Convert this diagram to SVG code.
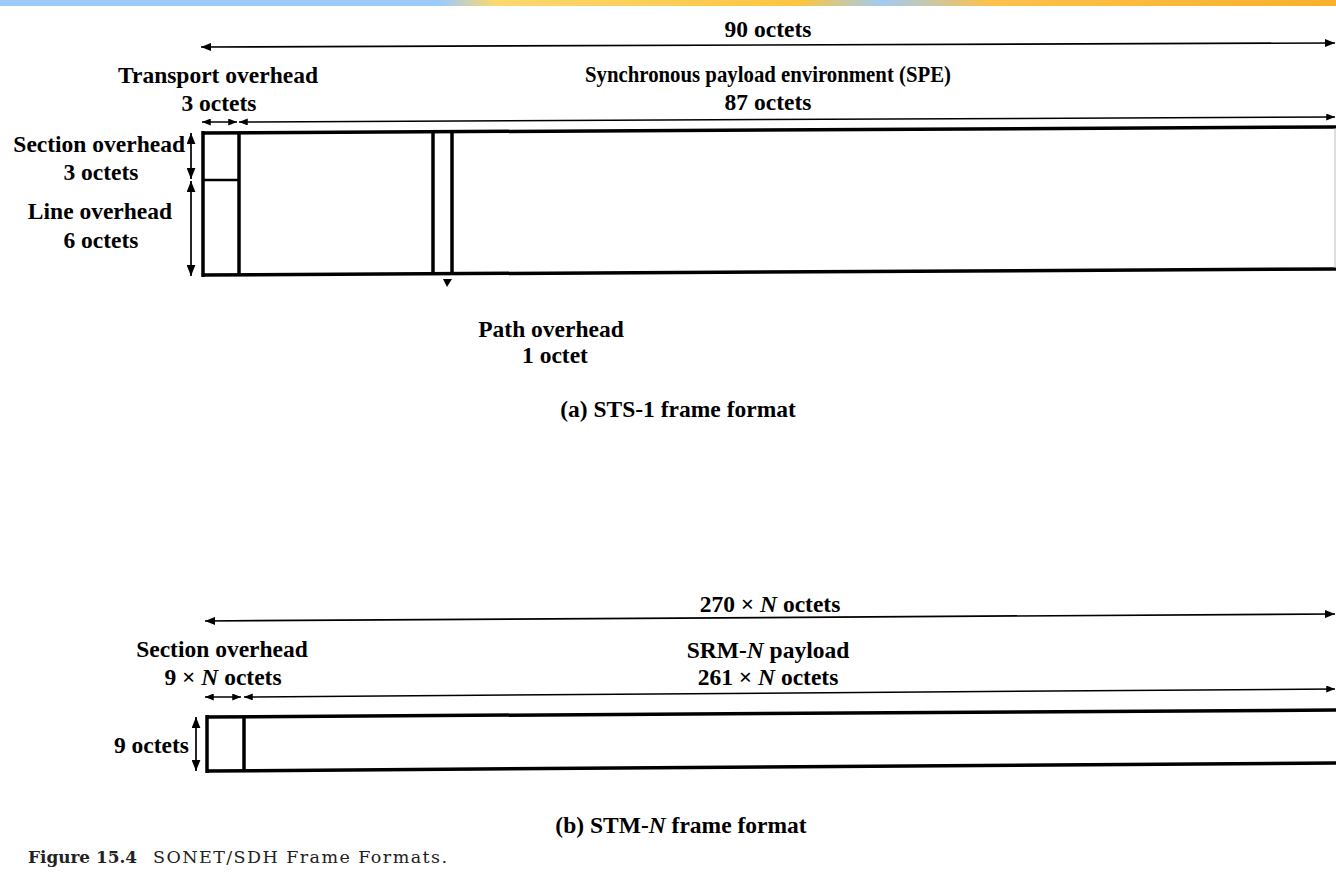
<svg xmlns="http://www.w3.org/2000/svg" width="1336" height="892" viewBox="0 0 1336 892">
<defs>
<linearGradient id="band" x1="0" y1="0" x2="1" y2="0">
<stop offset="0" stop-color="#9ccbfb"/>
<stop offset="0.33" stop-color="#9ccbfb"/>
<stop offset="0.37" stop-color="#fcd870"/>
<stop offset="0.6" stop-color="#fbc540"/>
<stop offset="0.66" stop-color="#a2cbf2"/>
<stop offset="0.74" stop-color="#fcc24c"/>
<stop offset="1" stop-color="#f9b12a"/>
</linearGradient>
<marker id="ah" viewBox="0 0 10 8" refX="10" refY="4" markerWidth="11" markerHeight="8" markerUnits="userSpaceOnUse" orient="auto-start-reverse">
<path d="M0,0 L10,4 L0,8 Z" fill="#000"/>
</marker>
<marker id="ahs" viewBox="0 0 10 8" refX="10" refY="4" markerWidth="9" markerHeight="7" markerUnits="userSpaceOnUse" orient="auto-start-reverse">
<path d="M0,0 L10,4 L0,8 Z" fill="#000"/>
</marker>
<marker id="ahv" viewBox="0 0 10 8" refX="10" refY="4" markerWidth="11" markerHeight="9" markerUnits="userSpaceOnUse" orient="auto-start-reverse">
<path d="M0,0 L10,4 L0,8 Z" fill="#000"/>
</marker>
</defs>
<style>
.t{font-family:"Liberation Serif","Times New Roman",serif;font-weight:bold;font-size:23.5px;fill:#000;text-anchor:middle}
.e{text-anchor:end}
.i{font-style:italic}
.dim{stroke:#000;stroke-width:1.7;fill:none;marker-start:url(#ah);marker-end:url(#ah)}
.dims{stroke:#000;stroke-width:1.5;fill:none;marker-start:url(#ahs);marker-end:url(#ahs)}
.dimv{stroke:#000;stroke-width:1.7;fill:none;marker-start:url(#ahv);marker-end:url(#ahv)}
.frame{stroke:#000;stroke-width:3.5;fill:none}
.thin{stroke:#000;stroke-width:2.6;fill:none}
.cap{font-family:"DejaVu Serif","Liberation Serif",serif;font-size:17.5px;fill:#222}
</style>
<rect x="0" y="0" width="1336" height="6" fill="url(#band)"/>
<rect x="0" y="6" width="1336" height="886" fill="#fff"/>

<g id="connectors">
<line class="dim" x1="201" y1="47" x2="1335" y2="43"/>
<line class="dims" x1="202" y1="122" x2="237" y2="122"/>
<line class="dims" x1="239" y1="122" x2="1335" y2="117"/>
<line class="dimv" x1="191" y1="133" x2="191" y2="179"/>
<line class="dimv" x1="191" y1="181" x2="191" y2="276"/>
<polygon points="443,279 452,279 447,287" fill="#000"/>
<line class="dim" x1="205" y1="621" x2="1335" y2="614"/>
<line class="dims" x1="205" y1="697" x2="241" y2="697"/>
<line class="dims" x1="244" y1="697" x2="1335" y2="689"/>
<line class="dimv" x1="196" y1="717" x2="196" y2="771"/>
</g>

<g id="sts1-frame">
<line class="frame" x1="202" y1="133" x2="1336" y2="127"/>
<line class="frame" x1="202" y1="275" x2="1336" y2="269"/>
<line class="frame" x1="203" y1="131" x2="203" y2="277"/>
<line class="frame" x1="239" y1="133" x2="239" y2="275"/>
<line class="thin" x1="203" y1="180" x2="239" y2="180"/>
<line class="frame" x1="433" y1="132" x2="433" y2="274"/>
<line class="frame" x1="452" y1="132" x2="452" y2="274"/>
<line x1="1335" y1="128" x2="1335" y2="268" stroke="#bbb" stroke-width="1"/>
</g>

<g id="stm-frame">
<line class="frame" x1="206" y1="717" x2="1336" y2="710"/>
<line class="frame" x1="206" y1="771" x2="1336" y2="763"/>
<line class="frame" x1="207" y1="715" x2="207" y2="773"/>
<line class="frame" x1="244" y1="717" x2="244" y2="771"/>
</g>

<g id="labels-a">
<text class="t" x="768" y="37">90 octets</text>
<text class="t" x="218" y="83">Transport overhead</text>
<text class="t" x="219" y="111">3 octets</text>
<text class="t" x="768" y="82" textLength="366" lengthAdjust="spacingAndGlyphs">Synchronous payload environment (SPE)</text>
<text class="t" x="768" y="110">87 octets</text>
<text class="t e" x="185" y="152">Section overhead</text>
<text class="t" x="101" y="180">3 octets</text>
<text class="t" x="100" y="219">Line overhead</text>
<text class="t" x="101" y="248">6 octets</text>
<text class="t" x="551" y="337">Path overhead</text>
<text class="t" x="555" y="363">1 octet</text>
<text class="t" x="678" y="417">(a) STS-1 frame format</text>
</g>

<g id="labels-b">
<text class="t" x="770" y="612">270 × <tspan class="i">N</tspan> octets</text>
<text class="t" x="222" y="657">Section overhead</text>
<text class="t" x="223" y="685">9 × <tspan class="i">N</tspan> octets</text>
<text class="t" x="768" y="658">SRM-<tspan class="i">N</tspan> payload</text>
<text class="t" x="768" y="685">261 × <tspan class="i">N</tspan> octets</text>
<text class="t e" x="189" y="753">9 octets</text>
<text class="t" x="681" y="833">(b) STM-<tspan class="i">N</tspan> frame format</text>
</g>

<g id="caption">
<text class="cap" x="28" y="863" font-weight="bold" textLength="109" lengthAdjust="spacingAndGlyphs">Figure 15.4</text>
<text class="cap" x="153" y="863" textLength="294" lengthAdjust="spacing">SONET/SDH Frame Formats.</text>
</g>
</svg>
